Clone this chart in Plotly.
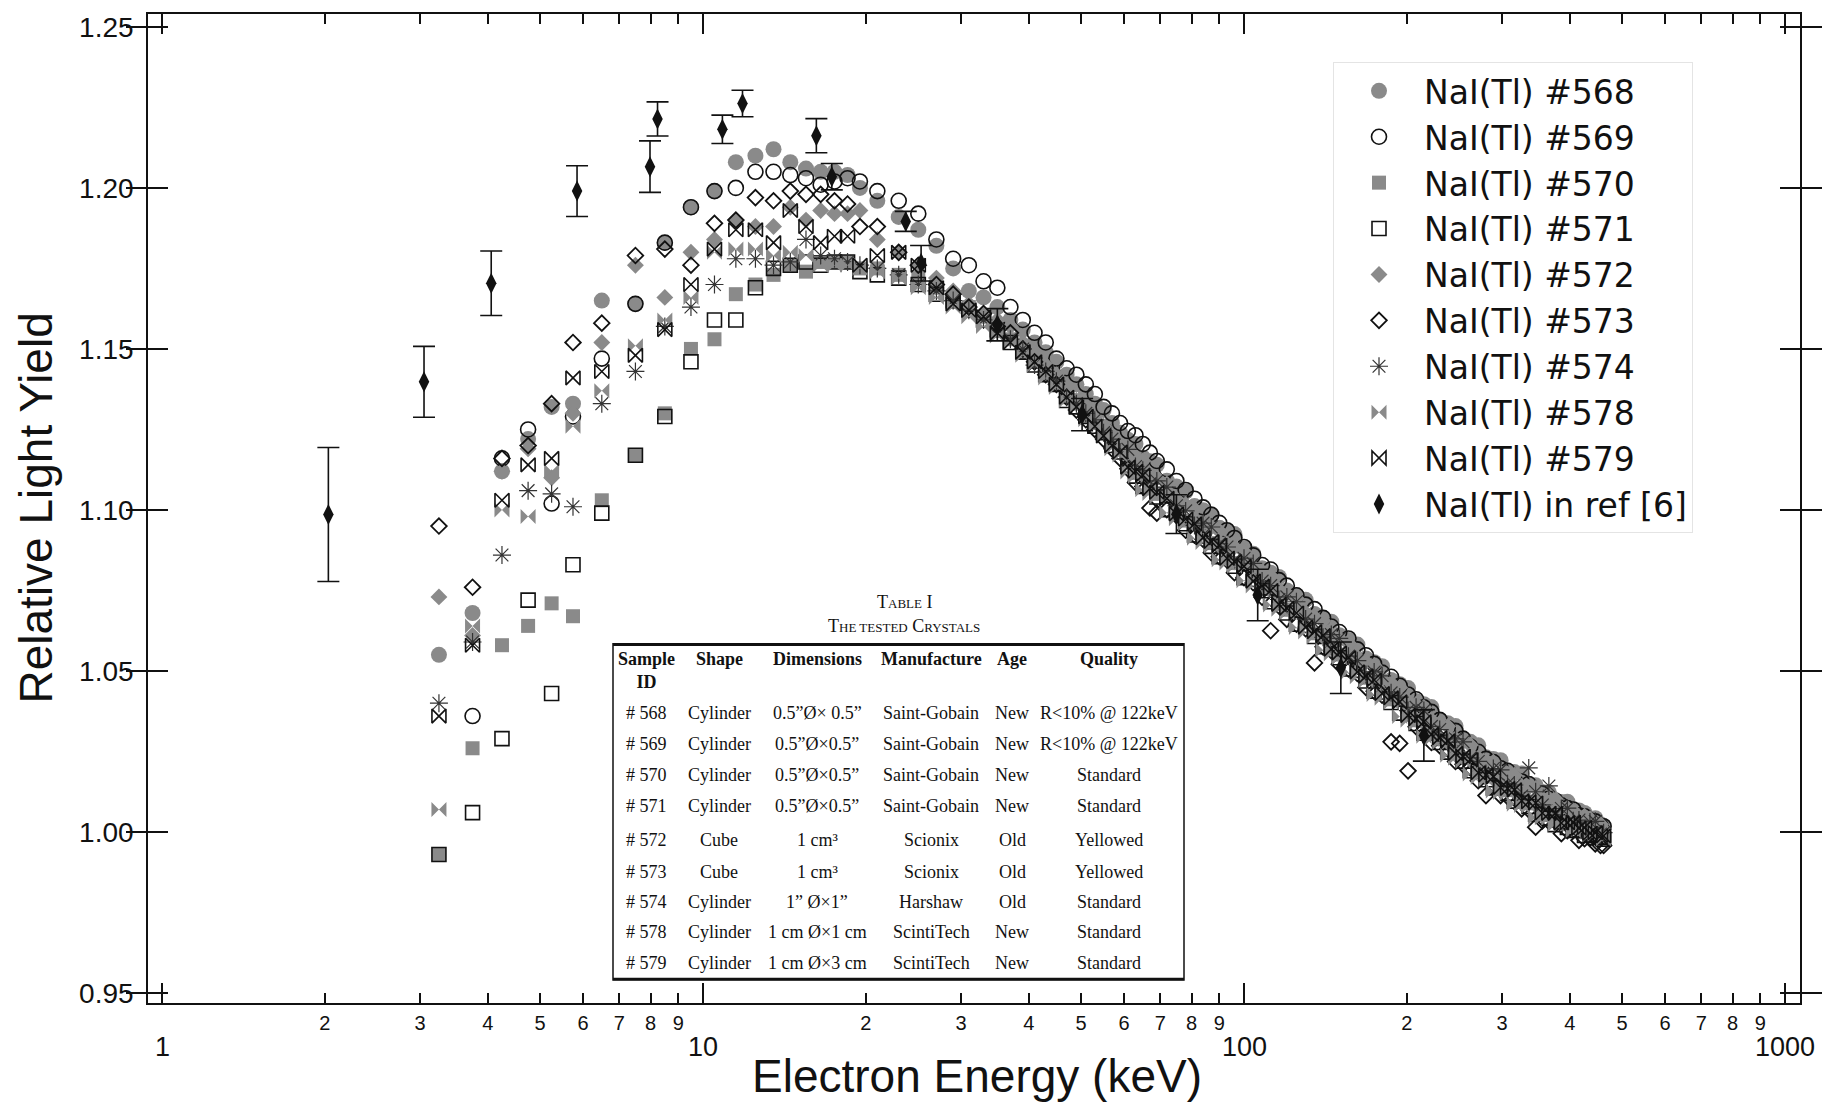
import plotly.graph_objects as go
import math

# ---------------- data ----------------
energy_keV = [3.25, 3.75, 4.25, 4.75, 5.25, 5.75, 6.5, 7.5, 8.5, 9.5,
              10.5, 11.5, 12.5, 13.5, 14.5, 15.5, 16.5, 17.5, 18.5, 19.5,
              21, 23, 25, 27, 29, 31, 33, 35, 37, 39, 41, 43, 45, 47, 49, 51, 53, 55, 57, 59,
              61, 63, 65, 67, 69, 72, 75, 78, 81, 84, 87, 90, 93, 96, 100, 104, 108, 112,
              116, 120, 125, 130, 135, 140, 145, 150, 156, 162, 168, 174, 180, 187, 194,
              201, 208, 215, 222, 230, 238, 246, 254, 262, 271, 280, 289, 298, 307, 316,
              326, 336, 346, 356, 366, 376, 386, 396, 406, 416, 426, 436, 446, 456, 462]

nai_568 = [1.055, 1.068, 1.112, 1.122, 1.132, 1.133, 1.165, 1.164, 1.183, 1.194,
           1.199, 1.208, 1.210, 1.212, 1.208, 1.206, 1.205, 1.205, 1.204, 1.200,
           1.196, 1.191, 1.187, 1.182, 1.175, 1.168, 1.166, 1.163,
           1.159, 1.156, 1.152, 1.149, 1.146, 1.142, 1.139, 1.136, 1.133, 1.131, 1.127, 1.124,
           1.1218, 1.1205, 1.1163, 1.1151, 1.1140, 1.1091, 1.1073, 1.1057, 1.1012, 1.0999,
           1.0987, 1.0945, 1.0935, 1.0925, 1.0880, 1.0864, 1.0819, 1.0805, 1.0792, 1.0750,
           1.0735, 1.0721, 1.0677, 1.0665, 1.0653, 1.0611, 1.0596, 1.0582, 1.0539, 1.0527,
           1.0515, 1.0472, 1.0459, 1.0447, 1.0407, 1.0397, 1.0388, 1.0348, 1.0338, 1.0329,
           1.0290, 1.0280, 1.0269, 1.0232, 1.0227, 1.0223, 1.0190, 1.0186, 1.0182, 1.0149,
           1.0145, 1.0124, 1.0123, 1.0093, 1.0093, 1.0094, 1.0065, 1.0067, 1.0059, 1.0041,
           1.0043, 1.0024, 1.0018]

nai_569 = [None, 1.036, 1.116, 1.125, 1.102, 1.129, 1.147, 1.164, 1.183, 1.194,
           1.199, 1.200, 1.205, 1.205, 1.204, 1.203, 1.201, 1.202, 1.203, 1.202,
           1.199, 1.196, 1.192, 1.184, 1.178, 1.176, 1.171, 1.169,
           1.163, 1.159, 1.155, 1.152, 1.147, 1.144, 1.142, 1.139, 1.136, 1.132, 1.130, 1.127,
           1.1245, 1.1232, 1.1205, 1.1178, 1.1152, 1.1126, 1.1090, 1.1062, 1.1035, 1.1008,
           1.0985, 1.0960, 1.0937, 1.0913, 1.0885, 1.0859, 1.0829, 1.0815, 1.0782, 1.0765,
           1.0735, 1.0706, 1.0692, 1.0665, 1.0638, 1.0621, 1.0601, 1.0567, 1.0549, 1.0522,
           1.0495, 1.0482, 1.0454, 1.0427, 1.0412, 1.0387, 1.0373, 1.0348, 1.0323, 1.0314,
           1.0290, 1.0265, 1.0249, 1.0227, 1.0217, 1.0198, 1.0190, 1.0166, 1.0157, 1.0149,
           1.0125, 1.0119, 1.0103, 1.0098, 1.0083, 1.0074, 1.0070, 1.0052, 1.0049, 1.0036,
           1.0033, 1.0019, 1.0018]

nai_570 = [0.993, 1.026, 1.058, 1.064, 1.071, 1.067, 1.103, 1.117, 1.130, 1.150,
           1.153, 1.167, 1.170, 1.173, 1.176, 1.174, 1.177, 1.177, 1.177, 1.175,
           1.175, 1.173, 1.172, 1.169, 1.166, 1.163, 1.160, 1.157,
           1.153, 1.149, 1.146, 1.142, 1.139, 1.135, 1.133, 1.129, 1.127, 1.124, 1.121, 1.119,
           1.1148, 1.1115, 1.1113, 1.1081, 1.1050, 1.1041, 1.1003, 1.0967, 1.0962, 1.0929,
           1.0897, 1.0895, 1.0865, 1.0835, 1.0830, 1.0794, 1.0759, 1.0755, 1.0722, 1.0690,
           1.0685, 1.0651, 1.0617, 1.0615, 1.0583, 1.0551, 1.0546, 1.0512, 1.0479, 1.0477,
           1.0445, 1.0412, 1.0409, 1.0377, 1.0347, 1.0347, 1.0318, 1.0288, 1.0288, 1.0259,
           1.0230, 1.0230, 1.0199, 1.0172, 1.0177, 1.0153, 1.0130, 1.0136, 1.0112, 1.0089,
           1.0095, 1.0074, 1.0053, 1.0063, 1.0043, 1.0024, 1.0035, 1.0017, 0.9999, 1.0011,
           0.9993, 0.9984, 0.9988]

nai_571 = [0.993, 1.006, 1.029, 1.072, 1.043, 1.083, 1.099, 1.117, 1.129, 1.146,
           1.159, 1.159, 1.169, 1.175, 1.176, 1.177, 1.176, 1.177, 1.177, 1.174,
           1.173, 1.172, 1.170, 1.167, 1.165, 1.162, 1.159, 1.156,
           1.152, 1.149, 1.145, 1.142, 1.139, 1.134, 1.132, 1.129, 1.126, 1.124, 1.120, 1.118,
           1.1138, 1.1105, 1.1073, 1.1071, 1.1040, 1.1001, 1.0993, 1.0957, 1.0922, 1.0919,
           1.0887, 1.0855, 1.0855, 1.0825, 1.0790, 1.0784, 1.0749, 1.0715, 1.0712, 1.0680,
           1.0645, 1.0641, 1.0607, 1.0575, 1.0573, 1.0541, 1.0506, 1.0502, 1.0469, 1.0437,
           1.0435, 1.0402, 1.0369, 1.0367, 1.0337, 1.0307, 1.0308, 1.0278, 1.0248, 1.0249,
           1.0220, 1.0190, 1.0189, 1.0162, 1.0137, 1.0143, 1.0120, 1.0096, 1.0102, 1.0079,
           1.0055, 1.0064, 1.0043, 1.0023, 1.0033, 1.0014, 1.0005, 1.0007, 0.9989, 0.9991,
           0.9983, 0.9984, 0.9978]

nai_572 = [1.073, 1.061, 1.112, 1.119, 1.110, 1.130, 1.152, 1.176, 1.166, 1.180,
           1.184, 1.190, 1.188, 1.188, 1.194, 1.190, 1.193, 1.192, 1.192, 1.193,
           1.184, 1.180, 1.176, 1.172, 1.168, 1.164, 1.161, 1.159,
           1.157, 1.152, 1.149, 1.145, 1.142, 1.138, 1.134, 1.132, 1.128, 1.126, 1.122, 1.120,
           1.1178, 1.1165, 1.1153, 1.1111, 1.1100, 1.1081, 1.1033, 1.1017, 1.1002, 1.0959,
           1.0947, 1.0935, 1.0895, 1.0885, 1.0870, 1.0824, 1.0809, 1.0795, 1.0752, 1.0740,
           1.0725, 1.0681, 1.0667, 1.0655, 1.0613, 1.0601, 1.0586, 1.0542, 1.0529, 1.0517,
           1.0475, 1.0462, 1.0449, 1.0407, 1.0397, 1.0387, 1.0348, 1.0338, 1.0328, 1.0289,
           1.0280, 1.0270, 1.0229, 1.0222, 1.0217, 1.0183, 1.0180, 1.0176, 1.0142, 1.0139,
           1.0135, 1.0104, 1.0103, 1.0103, 1.0073, 1.0074, 1.0065, 1.0047, 1.0049, 1.0041,
           1.0023, 1.0024, 1.0008]

nai_573 = [1.095, 1.076, 1.116, 1.120, 1.133, 1.152, 1.158, 1.179, 1.181, 1.176,
           1.189, 1.190, 1.197, 1.196, 1.199, 1.198, 1.198, 1.196, 1.195, 1.188,
           1.188, 1.180, 1.176, 1.170, 1.167, 1.163, 1.161, 1.157,
           1.155, 1.150, 1.146, 1.142, 1.139, 1.135, 1.131, 1.128, 1.125, 1.122, 1.119, 1.116,
           1.1128, 1.1085, 1.1073, 1.1006, 1.0990, 1.1001, 1.0983, 1.0937, 1.0922, 1.0909,
           1.0867, 1.0855, 1.0845, 1.0805, 1.0790, 1.0774, 1.0729, 1.0625, 1.0702, 1.0660,
           1.0645, 1.0631, 1.0525, 1.0575, 1.0563, 1.0521, 1.0506, 1.0492, 1.0449, 1.0437,
           1.0425, 1.0280, 1.0275, 1.0190, 1.0327, 1.0317, 1.0278, 1.0268, 1.0258, 1.0219,
           1.0210, 1.0200, 1.0159, 1.0113, 1.0147, 1.0113, 1.0110, 1.0106, 1.0072, 1.0069,
           1.0015, 1.0034, 1.0033, 1.0033, 0.9995, 1.0004, 1.0005, 0.9974, 0.9979, 0.9981,
           0.9963, 0.9958, 0.9958]

nai_574 = [1.040, 1.059, 1.086, 1.106, 1.105, 1.101, 1.133, 1.143, 1.157, 1.163,
           1.170, 1.178, 1.178, 1.176, 1.177, 1.184, 1.179, 1.178, 1.177, 1.176,
           1.175, 1.173, 1.170, 1.168, 1.165, 1.162, 1.159, 1.156,
           1.153, 1.150, 1.145, 1.143, 1.140, 1.135, 1.133, 1.130, 1.128, 1.124, 1.122, 1.118,
           1.1188, 1.1135, 1.1123, 1.1081, 1.1090, 1.1071, 1.1013, 1.0997, 1.0952, 1.0959,
           1.0947, 1.0895, 1.0885, 1.0845, 1.0850, 1.0834, 1.0779, 1.0765, 1.0722, 1.0730,
           1.0715, 1.0661, 1.0647, 1.0605, 1.0613, 1.0601, 1.0546, 1.0532, 1.0489, 1.0497,
           1.0485, 1.0432, 1.0419, 1.0377, 1.0387, 1.0377, 1.0328, 1.0318, 1.0278, 1.0289,
           1.0280, 1.0230, 1.0219, 1.0182, 1.0197, 1.0193, 1.0150, 1.0146, 1.0112, 1.0199,
           1.0125, 1.0084, 1.0143, 1.0053, 1.0073, 1.0074, 1.0035, 1.0037, 1.0009, 1.0031,
           1.0033, 0.9994, 0.9998]

nai_578 = [1.007, 1.064, 1.100, 1.098, 1.112, 1.126, 1.137, 1.151, 1.159, 1.166,
           1.180, 1.181, 1.181, 1.179, 1.180, 1.179, 1.176, 1.176, 1.176, 1.175,
           1.174, 1.172, 1.169, 1.166, 1.163, 1.160, 1.157, 1.154,
           1.152, 1.148, 1.145, 1.141, 1.138, 1.134, 1.132, 1.128, 1.126, 1.123, 1.119, 1.117,
           1.1118, 1.1105, 1.1063, 1.1051, 1.1040, 1.0991, 1.0973, 1.0957, 1.0912, 1.0899,
           1.0887, 1.0845, 1.0835, 1.0825, 1.0780, 1.0764, 1.0749, 1.0705, 1.0692, 1.0680,
           1.0635, 1.0621, 1.0607, 1.0565, 1.0553, 1.0541, 1.0496, 1.0482, 1.0469, 1.0427,
           1.0415, 1.0402, 1.0359, 1.0347, 1.0337, 1.0297, 1.0288, 1.0278, 1.0238, 1.0229,
           1.0220, 1.0180, 1.0169, 1.0162, 1.0127, 1.0123, 1.0120, 1.0086, 1.0082, 1.0079,
           1.0045, 1.0044, 1.0043, 1.0023, 1.0023, 1.0024, 1.0005, 1.0007, 1.0009, 0.9991,
           0.9993, 0.9994, 0.9978]

nai_579 = [1.036, 1.058, 1.103, 1.114, 1.116, 1.141, 1.143, 1.148, 1.156, 1.170,
           1.181, 1.187, 1.187, 1.183, 1.193, 1.188, 1.183, 1.185, 1.185, 1.176,
           1.179, 1.180, 1.176, 1.169, 1.164, 1.162, 1.160, 1.155,
           1.152, 1.149, 1.146, 1.143, 1.139, 1.135, 1.132, 1.129, 1.126, 1.123, 1.120, 1.118,
           1.1133, 1.1120, 1.1108, 1.1066, 1.1055, 1.1036, 1.0988, 1.0972, 1.0957, 1.0914,
           1.0902, 1.0890, 1.0850, 1.0840, 1.0825, 1.0779, 1.0764, 1.0750, 1.0707, 1.0695,
           1.0680, 1.0636, 1.0622, 1.0610, 1.0568, 1.0556, 1.0541, 1.0497, 1.0484, 1.0472,
           1.0430, 1.0417, 1.0404, 1.0362, 1.0352, 1.0342, 1.0303, 1.0293, 1.0283, 1.0244,
           1.0235, 1.0225, 1.0184, 1.0177, 1.0172, 1.0138, 1.0135, 1.0131, 1.0097, 1.0094,
           1.0090, 1.0059, 1.0058, 1.0058, 1.0028, 1.0029, 1.0030, 1.0012, 1.0014, 0.9996,
           0.9998, 0.9989, 0.9988]

ref_energy = [2.03, 3.05, 4.06, 5.85, 7.98, 8.24, 10.86, 11.83, 16.2, 17.3, 23.7, 25.3,
              35.0, 50.2, 75.0, 106.0, 151.0, 215.0]
ref_yield = [1.0986, 1.1398, 1.1704, 1.1990, 1.2066, 1.2214, 1.2182, 1.2262, 1.2162, 1.2035,
             1.1896, 1.1766, 1.1575, 1.1296, 1.0987, 1.0736, 1.0510, 1.0300]
ref_err = [0.0208, 0.0110, 0.0100, 0.0079, 0.0080, 0.0053, 0.0044, 0.0041, 0.0053, 0.0041,
           0.0031, 0.0055, 0.0050, 0.0050, 0.0060, 0.0080, 0.0080, 0.0080]

series_names = ["NaI(Tl) #568", "NaI(Tl) #569", "NaI(Tl) #570", "NaI(Tl) #571",
                "NaI(Tl) #572", "NaI(Tl) #573", "NaI(Tl) #574", "NaI(Tl) #578",
                "NaI(Tl) #579"]
ref_name = "NaI(Tl) in ref [6]"

minor_ticks = [2, 3, 4, 5, 6, 7, 8, 9, 20, 30, 40, 50, 60, 70, 80, 90,
               200, 300, 400, 500, 600, 700, 800, 900]
minor_labels = ["2", "3", "4", "5", "6", "7", "8", "9"] * 3
major_ticks = [1, 10, 100, 1000]
major_labels = ["1", "10", "100", "1000"]
y_ticks = [0.95, 1.00, 1.05, 1.10, 1.15, 1.20, 1.25]
y_labels = ["0.95", "1.00", "1.05", "1.10", "1.15", "1.20", "1.25"]

table_header = ["<b>Sample</b><br><b>ID</b>", "<b>Shape</b>", "<b>Dimensions</b>",
                "<b>Manufacture</b>", "<b>Age</b>", "<b>Quality</b>"]
table_rows = [
    ["# 568", "Cylinder", "0.5”Ø× 0.5”", "Saint-Gobain", "New", "R&lt;10% @ 122keV"],
    ["# 569", "Cylinder", "0.5”Ø×0.5”", "Saint-Gobain", "New", "R&lt;10% @ 122keV"],
    ["# 570", "Cylinder", "0.5”Ø×0.5”", "Saint-Gobain", "New", "Standard"],
    ["# 571", "Cylinder", "0.5”Ø×0.5”", "Saint-Gobain", "New", "Standard"],
    ["# 572", "Cube", "1 cm³", "Scionix", "Old", "Yellowed"],
    ["# 573", "Cube", "1 cm³", "Scionix", "Old", "Yellowed"],
    ["# 574", "Cylinder", "1” Ø×1”", "Harshaw", "Old", "Standard"],
    ["# 578", "Cylinder", "1 cm Ø×1 cm", "ScintiTech", "New", "Standard"],
    ["# 579", "Cylinder", "1 cm Ø×3 cm", "ScintiTech", "New", "Standard"],
]

series_values = [nai_568, nai_569, nai_570, nai_571, nai_572, nai_573, nai_574, nai_578, nai_579]
for nm, vals in zip(series_names, series_values):
    if len(vals) != len(energy_keV):
        raise ValueError(f"{nm}: {len(vals)} values vs {len(energy_keV)} energies")

# ---------------- styling ----------------
W, H = 1823, 1102
ML, MR, MT, MB = 148, 23, 12, 99
PW, PH = W - ML - MR, H - MT - MB
SANS = "Liberation Sans, Arial, Helvetica, sans-serif"
SERIF = "Liberation Serif, Times New Roman, serif"
GRAY = "#8a8a8a"
BLACK = "#111111"

def px_x(px):
    return (px - ML) / PW

def px_y(py):
    return (MT + PH - py) / PH

marker_styles = [
    dict(symbol="circle", size=16, color=GRAY, line=dict(width=0)),
    dict(symbol="circle-open", size=15, color=BLACK, line=dict(width=1.6, color=BLACK)),
    dict(symbol="square", size=14, color=GRAY, line=dict(width=0)),
    dict(symbol="square-open", size=14, color=BLACK, line=dict(width=1.6, color=BLACK)),
    dict(symbol="diamond", size=13, color=GRAY, line=dict(width=0)),
    dict(symbol="diamond-open", size=12, color=BLACK, line=dict(width=1.8, color=BLACK)),
    dict(symbol="asterisk-open", size=15, color="#333333", line=dict(width=1.2, color="#333333")),
    dict(symbol="bowtie", size=15, color=GRAY, line=dict(width=0)),
    dict(symbol="bowtie-open", size=14, color=BLACK, line=dict(width=1.6, color=BLACK)),
]

fig = go.Figure()
for name, vals, mk in zip(series_names, series_values, marker_styles):
    fig.add_trace(go.Scatter(x=energy_keV, y=vals, mode="markers", name=name,
                             marker=mk, cliponaxis=False))

fig.add_trace(go.Scatter(
    x=ref_energy, y=ref_yield, mode="markers", name=ref_name, xaxis="x2",
    marker=dict(symbol="diamond-tall", size=15, color=BLACK),
    error_y=dict(type="data", array=ref_err, visible=True, color=BLACK,
                 thickness=1.6, width=11),
))

xr = [-0.0259, 3.0277]
axis_common = dict(showline=True, linecolor=BLACK, linewidth=1.6, mirror="allticks",
                   ticks="inside", tickcolor=BLACK, tickwidth=1.6, showgrid=False,
                   zeroline=False)

fig.update_layout(
    width=W, height=H, autosize=False,
    margin=dict(l=ML, r=MR, t=MT, b=MB, pad=0),
    paper_bgcolor="white", plot_bgcolor="white",
    font=dict(family=SANS, color=BLACK),
    showlegend=True,
    xaxis=dict(type="log", range=xr, tickmode="array", tickvals=minor_ticks,
               ticktext=minor_labels, ticklen=10, tickfont=dict(size=20, family=SANS),
               ticklabelstandoff=1, **axis_common),
    xaxis2=dict(type="log", range=xr, overlaying="x", anchor="y", side="bottom",
                tickmode="array", tickvals=major_ticks, ticklen=20,
                showticklabels=False, **axis_common),
    yaxis=dict(range=[0.9469, 1.2540], tickmode="array", tickvals=y_ticks,
               ticktext=y_labels, ticklen=20, tickfont=dict(size=28, family=SANS),
               ticklabelstandoff=7, **axis_common),
    legend=dict(x=px_x(1333), y=px_y(60), xanchor="left", yanchor="top",
                bgcolor="white", bordercolor="#e4e4e4", borderwidth=1,
                font=dict(size=33, family="DejaVu Sans, Liberation Sans, sans-serif",
                          color=BLACK),
                itemwidth=80, tracegroupgap=0),
)

annotations = []
# decade labels of the log axis, placed at the axis' own tick values
for val, lab in zip(major_ticks, major_labels):
    annotations.append(dict(text=lab, x=math.log10(val), xref="x", y=px_y(1047),
                            yref="paper", showarrow=False,
                            font=dict(size=27, family=SANS, color=BLACK),
                            xanchor="center", yanchor="middle"))
# axis titles
annotations.append(dict(text="Relative Light Yield", x=px_x(35), y=0.5, xref="paper",
                        yref="paper", textangle=-90, showarrow=False,
                        font=dict(size=46, family=SANS, color=BLACK),
                        xanchor="center", yanchor="middle"))
annotations.append(dict(text="Electron Energy (keV)", x=px_x(977), y=px_y(1076),
                        xref="paper", yref="paper", showarrow=False,
                        font=dict(size=46, family=SANS, color=BLACK),
                        xanchor="center", yanchor="middle"))

# table caption
annotations.append(dict(text="T<span style='font-size:13px'>ABLE</span> I",
                        x=px_x(904), y=px_y(601), xref="paper", yref="paper",
                        showarrow=False, font=dict(size=18, family=SERIF, color=BLACK),
                        xanchor="center", yanchor="middle"))
annotations.append(dict(text="T<span style='font-size:13px'>HE TESTED</span> C<span style='font-size:13px'>RYSTALS</span>",
                        x=px_x(904), y=px_y(625), xref="paper", yref="paper",
                        showarrow=False, font=dict(size=18, family=SERIF, color=BLACK),
                        xanchor="center", yanchor="middle"))

col_x = [646, 719, 817, 931, 1012, 1109]
header_y = [670, 658, 658, 658, 658, 658]
row_y = [712, 743, 775, 806, 840, 872, 902, 932, 963]
for cx, hy, txt in zip(col_x, header_y, table_header):
    annotations.append(dict(text=txt, x=px_x(cx), y=px_y(hy), xref="paper", yref="paper",
                            showarrow=False, font=dict(size=18, family=SERIF, color=BLACK),
                            xanchor="center", yanchor="middle"))
for ry, row in zip(row_y, table_rows):
    for cx, txt in zip(col_x, row):
        annotations.append(dict(text=txt, x=px_x(cx), y=px_y(ry), xref="paper",
                                yref="paper", showarrow=False,
                                font=dict(size=18, family=SERIF, color=BLACK),
                                xanchor="center", yanchor="middle"))

shapes = [
    dict(type="rect", xref="paper", yref="paper", x0=px_x(613), x1=px_x(1184),
         y0=px_y(980), y1=px_y(643), line=dict(color=BLACK, width=1.5)),
    dict(type="line", xref="paper", yref="paper", x0=px_x(613), x1=px_x(1184),
         y0=px_y(644), y1=px_y(644), line=dict(color=BLACK, width=2.5)),
    dict(type="line", xref="paper", yref="paper", x0=px_x(613), x1=px_x(1184),
         y0=px_y(979), y1=px_y(979), line=dict(color=BLACK, width=2.5)),
]

fig.update_layout(annotations=annotations, shapes=shapes)
fig.write_html("out.html")
